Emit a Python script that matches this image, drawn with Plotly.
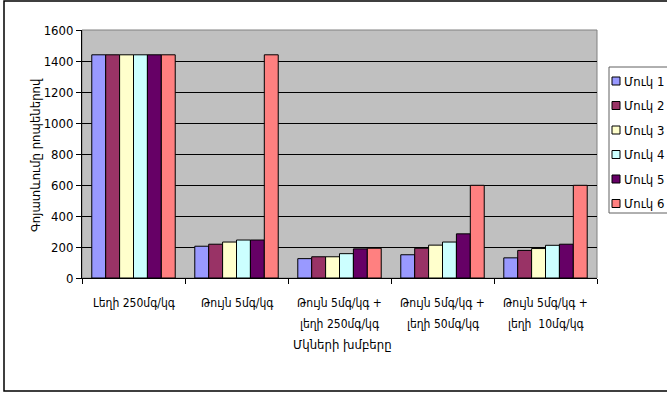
import plotly.graph_objects as go

# Survival data per mouse group
categories = [
    "Լեղի 250մգ/կգ",
    "Թույն 5մգ/կգ",
    "Թույն 5մգ/կգ +<br>լեղի 250մգ/կգ",
    "Թույն 5մգ/կգ +<br>լեղի 50մգ/կգ",
    "Թույն 5մգ/կգ +<br>լեղի  10մգ/կգ",
]
series_names = ["Մուկ 1", "Մուկ 2", "Մուկ 3", "Մուկ 4", "Մուկ 5", "Մուկ 6"]
mouse1 = [1440, 205, 125, 150, 130]
mouse2 = [1440, 218, 137, 192, 178]
mouse3 = [1440, 232, 137, 212, 190]
mouse4 = [1440, 245, 157, 232, 211]
mouse5 = [1440, 245, 188, 285, 218]
mouse6 = [1440, 1440, 192, 598, 598]
series_values = [mouse1, mouse2, mouse3, mouse4, mouse5, mouse6]
colors = ["#9999FF", "#993366", "#FFFFCC", "#CCFFFF", "#660066", "#FF8080"]
y_ticks = [0, 200, 400, 600, 800, 1000, 1200, 1400, 1600]

W, H = 667, 393
L, R, T, B = 82, 70, 30, 115
FONT = "DejaVu Sans Condensed, DejaVu Sans, sans-serif"


def px_x(p):
    return (p - L) / (W - L - R)


def px_y(p):
    return (H - B - p) / (H - T - B)


fig = go.Figure()
for name, vals, col in zip(series_names, series_values, colors):
    fig.add_trace(go.Bar(
        x=categories, y=vals, name=name,
        marker=dict(color=col, line=dict(color="black", width=1)),
        showlegend=False,
    ))

shapes = [
    # outer chart frame
    dict(type="rect", xref="paper", yref="paper",
         x0=px_x(4), x1=px_x(675), y0=px_y(391), y1=px_y(1),
         line=dict(color="black", width=1.5), layer="below"),
    # plot area border (top/right)
    dict(type="rect", xref="paper", yref="paper", x0=0, x1=1, y0=0, y1=1,
         line=dict(color="#808080", width=1), layer="below"),
    # legend box
    dict(type="rect", xref="paper", yref="paper",
         x0=px_x(609), x1=px_x(680), y0=px_y(213), y1=px_y(67),
         line=dict(color="#606060", width=1), fillcolor="white"),
]
annotations = []
for i, (name, col) in enumerate(zip(series_names, colors)):
    cy = 81 + i * 24.5
    shapes.append(dict(type="rect", xref="paper", yref="paper",
                       x0=px_x(612), x1=px_x(620), y0=px_y(cy + 4), y1=px_y(cy - 4),
                       line=dict(color="black", width=1), fillcolor=col))
    annotations.append(dict(text=name, xref="paper", yref="paper",
                            x=px_x(622), y=px_y(cy), xanchor="left", yanchor="middle",
                            showarrow=False, font=dict(size=13, color="black", family=FONT)))

# category labels, one annotation per text line for wide line spacing
for cat in categories:
    for j, line in enumerate(cat.split("<br>")):
        annotations.append(dict(text=line, xref="x", yref="paper",
                                x=cat, y=px_y(303 + j * 21), xanchor="center", yanchor="middle",
                                showarrow=False, font=dict(size=12, color="black", family=FONT)))

# axis titles
annotations.append(dict(text="Մկների խմբերը", xref="paper", yref="paper",
                        x=px_x(342), y=px_y(344), xanchor="center", yanchor="middle",
                        showarrow=False, font=dict(size=13, color="black", family=FONT)))
annotations.append(dict(text="Գոյատևումը րոպեներով", xref="paper", yref="paper",
                        x=px_x(35), y=px_y(155), xanchor="center", yanchor="middle",
                        textangle=-90,
                        showarrow=False, font=dict(size=13, color="black", family=FONT)))

fig.update_layout(
    width=W, height=H,
    margin=dict(l=L, r=R, t=T, b=B),
    paper_bgcolor="white",
    plot_bgcolor="#C0C0C0",
    barmode="group",
    bargap=0.19,
    bargroupgap=0,
    font=dict(family=FONT, size=12, color="black"),
    shapes=shapes,
    annotations=annotations,
    xaxis=dict(
        type="category",
        tickson="boundaries",
        ticks="outside", ticklen=5, tickcolor="black",
        showline=True, linecolor="black", linewidth=1,
        showgrid=False,
        showticklabels=False,
    ),
    yaxis=dict(
        range=[0, 1600],
        tickvals=y_ticks,
        ticks="outside", ticklen=5, tickcolor="black",
        showline=True, linecolor="black", linewidth=1,
        showgrid=True, gridcolor="black", gridwidth=1,
        zeroline=False,
        tickfont=dict(size=13, family=FONT),
    ),
)

fig.write_html("out.html")
